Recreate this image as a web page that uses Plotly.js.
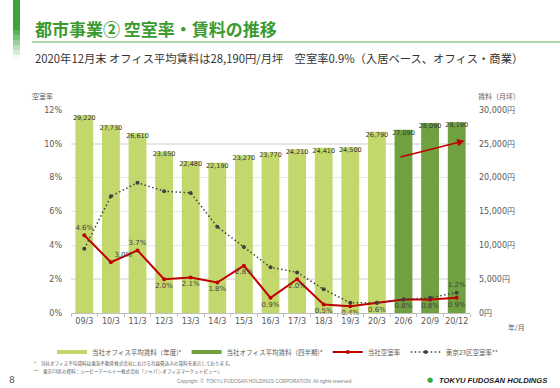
<!DOCTYPE html>
<html><head><meta charset="utf-8">
<script src="https://cdn.plot.ly/plotly-3.0.1.min.js"></script>
<style>html,body{margin:0;padding:0;background:#fff;}#chart{width:560px;height:388px;}</style>
</head><body><div id="chart"></div>
<script>
// ---- data ----
const categories = ["09/3","10/3","11/3","12/3","13/3","14/3","15/3","16/3","17/3","18/3","19/3","20/3","20/6","20/9","20/12"];
const annualCats = ["09/3","10/3","11/3","12/3","13/3","14/3","15/3","16/3","17/3","18/3","19/3","20/3"];
const annualRent = [29220,27730,26610,23850,22480,22190,23270,23770,24210,24410,24500,26790];
const quarterCats = ["20/6","20/9","20/12"];
const quarterRent = [27090,28090,28190];
const companyVacancy = [4.6,3.0,3.7,2.0,2.1,1.8,2.8,0.9,2.0,0.5,0.4,0.6,0.8,0.8,0.9];
const tokyoVacancy = [3.8,6.9,7.7,7.2,7.1,5.1,3.9,2.7,2.4,1.4,0.6,0.6,0.8,0.9,1.2];
const companyLabelPos = ["top center","top right","top center","bottom center","bottom center","bottom center","bottom center","bottom center","bottom center","bottom center","bottom center","bottom center","bottom center","bottom center","bottom center"];
const leftTicks = [0,2,4,6,8,10,12];
const rightTicks = [0,5000,10000,15000,20000,25000,30000];

// ---- layout helpers ----
const L=71,R=470,T=110,B=313;
const px = x => (x-L)/(R-L);
const py = y => (B-y)/(B-T);
const CJK = "Noto Sans CJK JP, sans-serif";
const TICKF = "DejaVu Sans, Noto Sans CJK JP, sans-serif";
const allRent = annualRent.concat(quarterRent);
const fmt = v => v.toLocaleString('en-US');
const LIGHT = '#c3d86c', DARK = '#70a141';

const traces = [
  {type:'bar', name:'当社オフィス平均賃料（年度)*', x:annualCats, y:annualRent, yaxis:'y',
   marker:{color:LIGHT}, hoverinfo:'skip', showlegend:false},
  {type:'bar', name:'当社オフィス平均賃料（四半期)*', x:quarterCats, y:quarterRent, yaxis:'y',
   marker:{color:DARK}, hoverinfo:'skip', showlegend:false},
  // legend entries for the bar series (wide flat swatches, as in the reference)
  {type:'scatter', mode:'lines', name:'当社オフィス平均賃料（年度)*', x:[null], y:[null],
   line:{color:LIGHT, width:4}, hoverinfo:'skip'},
  {type:'scatter', mode:'lines', name:'当社オフィス平均賃料（四半期)*', x:[null], y:[null],
   line:{color:DARK, width:4}, hoverinfo:'skip'},
  {type:'scatter', mode:'text', x:categories, y:allRent, yaxis:'y', showlegend:false,
   text:allRent.map(fmt), textposition:'bottom center',
   textfont:{family:TICKF, size:6.5, color:'#333333'}, hoverinfo:'skip', cliponaxis:false},
  {type:'scatter', mode:'lines+markers+text', name:'当社空室率', x:categories, y:companyVacancy, yaxis:'y2',
   line:{color:'#c00000', width:2}, marker:{color:'#c00000', size:4},
   text:companyVacancy.map(v=>v.toFixed(1)+'%'), textposition:companyLabelPos,
   textfont:{family:TICKF, size:7, color:'#404040'}, cliponaxis:false},
  {type:'scatter', mode:'lines+markers+text', name:'東京23区空室率**', x:categories, y:tokyoVacancy, yaxis:'y2',
   line:{color:'#404040', width:1.5, dash:'1.5px,2.5px'}, marker:{color:'#404040', size:4},
   text:tokyoVacancy.map((v,i)=> i===tokyoVacancy.length-1 ? v.toFixed(1)+'%' : ''), textposition:'top center',
   textfont:{family:TICKF, size:7, color:'#404040'}, cliponaxis:false}
];

// left green gradient bar
const shapes = [];
for (let i=0;i<12;i++){
  const y0 = i*5, y1 = y0+5;
  shapes.push({type:'rect', xref:'paper', yref:'paper', x0:px(13), x1:px(20), y0:py(y1), y1:py(y0),
    fillcolor:'#3aa63a', opacity: i<6 ? 1 : Math.max(0.05, 1-(i-5)*0.16), line:{width:0}, layer:'above'});
}
shapes.push({type:'line', xref:'paper', yref:'paper', x0:px(32), x1:px(560), y0:py(42), y1:py(42),
  line:{color:'#5cb05c', width:1}});

const annotations = [
  {xref:'paper', yref:'paper', x:px(33), y:py(28), xanchor:'left', yanchor:'middle', showarrow:false,
   text:'<b>都市事業② 空室率・賃料の推移</b>', font:{family:CJK, size:17, color:'#3a9a2f'}},
  {xref:'paper', yref:'paper', x:px(33), y:py(58), xanchor:'left', yanchor:'middle', showarrow:false,
   text:'2020年12月末 オフィス平均賃料は28,190円/月坪　空室率0.9%（入居ベース、オフィス・商業）', font:{family:CJK, size:11.3, color:'#333333'}},
  {xref:'paper', yref:'paper', x:px(42), y:py(96), xanchor:'center', yanchor:'middle', showarrow:false,
   text:'空室率', font:{family:CJK, size:7, color:'#595959'}},
  {xref:'paper', yref:'paper', x:px(476), y:py(96), xanchor:'left', yanchor:'middle', showarrow:false,
   text:'賃料（月坪）', font:{family:CJK, size:7, color:'#595959'}},
  {xref:'paper', yref:'paper', x:px(516), y:py(327), xanchor:'center', yanchor:'middle', showarrow:false,
   text:'年/月', font:{family:CJK, size:7, color:'#595959'}},
  {xref:'paper', yref:'paper', x:px(32), y:py(363), xanchor:'left', yanchor:'middle', showarrow:false,
   text:'*　当社オフィス平均賃料は東急不動産株式会社における共益費込みの賃料を表示しております。', font:{family:CJK, size:4.6, color:'#595959'}},
  {xref:'paper', yref:'paper', x:px(32), y:py(371), xanchor:'left', yanchor:'middle', showarrow:false,
   text:'**　東京23区の資料：シービーアールイー株式会社「ジャパンオフィスマーケットビュー」', font:{family:CJK, size:4.6, color:'#595959'}},
  {xref:'paper', yref:'paper', x:px(12), y:py(380), xanchor:'center', yanchor:'middle', showarrow:false,
   text:'8', font:{family:TICKF, size:9, color:'#595959'}},
  {xref:'paper', yref:'paper', x:px(265), y:py(381), xanchor:'center', yanchor:'middle', showarrow:false,
   text:'Copyright  ©  TOKYU FUDOSAN HOLDINGS CORPORATION  All rights reserved.', font:{family:'Liberation Sans, sans-serif', size:4.8, color:'#808080'}},
  {xref:'paper', yref:'paper', x:px(437), y:py(380), xanchor:'left', yanchor:'middle', showarrow:false,
   text:'<b><i>TOKYU FUDOSAN HOLDINGS</i></b>', font:{family:'Liberation Sans, sans-serif', size:7.6, color:'#1a1a1a'}},
  {xref:'paper', yref:'paper', x:px(430), y:py(380), xanchor:'center', yanchor:'middle', showarrow:false,
   text:'●', font:{family:'DejaVu Sans', size:7, color:'#3aa63a'}},
  // trend arrow over quarterly bars
  {xref:'x', yref:'y', axref:'x', ayref:'y', x:14.3, y:25450, ax:11.83, ay:23000,
   showarrow:true, arrowhead:2, arrowsize:1, arrowwidth:1.5, arrowcolor:'#c00000', text:''}
];

const layout = {
  width:560, height:388, margin:{l:L, r:560-R, t:T, b:388-B, pad:0},
  paper_bgcolor:'#ffffff', plot_bgcolor:'#ffffff',
  barmode:'overlay', bargap:0.33,
  showlegend:true,
  legend:{orientation:'h', x:px(52), y:py(352), xanchor:'left', yanchor:'middle',
    font:{family:CJK, size:6.5, color:'#595959'}, bgcolor:'rgba(0,0,0,0)', itemwidth:30, traceorder:'normal',
    tracegroupgap:0},
  xaxis:{type:'category', categoryorder:'array', categoryarray:categories, range:[-0.5,14.5],
    showgrid:false, showline:true, linecolor:'#bfbfbf', linewidth:1, tickangle:0,
    ticks:'outside', tickson:'boundaries', ticklen:3, tickcolor:'#bfbfbf',
    tickfont:{family:TICKF, size:8, color:'#595959'}, fixedrange:true},
  yaxis:{side:'right', range:[0,30000], tickvals:rightTicks,
    ticktext:rightTicks.map(v=>fmt(v)+'円'),
    showgrid:true, gridcolor:'#e6e6e6', gridwidth:1.5, zeroline:false, showline:false,
    ticks:'', ticklabelstandoff:8,
    tickfont:{family:TICKF, size:8, color:'#595959'}, fixedrange:true},
  yaxis2:{overlaying:'y', side:'left', range:[0,12], tickvals:leftTicks, ticktext:leftTicks.map(v=>v+'%'),
    showgrid:false, zeroline:false, showline:false,
    ticks:'', ticklabelstandoff:8,
    tickfont:{family:TICKF, size:8, color:'#595959'}, fixedrange:true},
  shapes:shapes, annotations:annotations,
  font:{family:CJK}
};

Plotly.newPlot('chart', traces, layout, {displayModeBar:false, staticPlot:true});
</script></body></html>
